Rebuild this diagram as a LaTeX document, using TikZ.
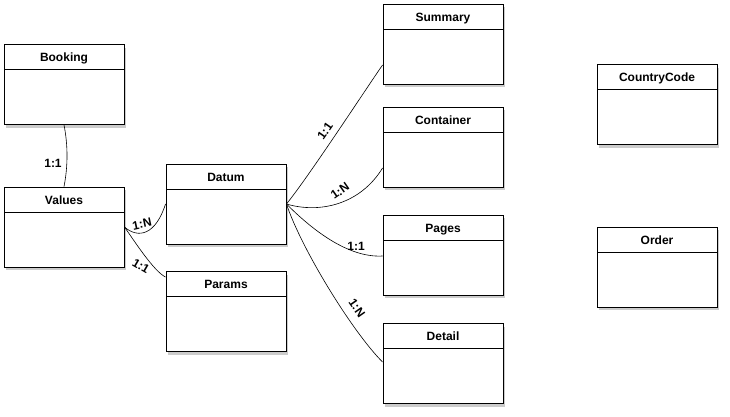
\documentclass[tikz,border=0pt]{standalone}
\usepackage{fontspec}
\setmainfont{Liberation Sans}
\usetikzlibrary{shadows}

\begin{document}
\begin{tikzpicture}[x=1pt,y=-1pt,
    entity/.style={draw,line width=0.9pt,fill=white,minimum width=120pt,minimum height=80pt,
        inner sep=0pt,
        drop shadow={shadow xshift=2pt,shadow yshift=-3pt,opacity=0.4,fill=gray},
        path picture={\draw[line width=0.9pt] ([yshift=-25pt]path picture bounding box.north west)
            -- ([yshift=-25pt]path picture bounding box.north east);}},
    title/.style={anchor=base,yshift=-17.8pt,font=\fontsize{12}{14}\selectfont\bfseries},
    rel/.style={font=\fontsize{12}{14}\selectfont\bfseries,inner sep=0pt},
    link/.style={line width=0.6pt}]
        \useasboundingbox (0,0) rectangle (730,416);

        \node[entity,label={[title]north:Booking}] (booking) at (64,84.5) {};
        \node[entity,label={[title]north:Values}] (values) at (64,227) {};
        \node[entity,label={[title]north:Datum}] (datum) at (226,204) {};
        \node[entity,label={[title]north:Params}] (params) at (226,311.5) {};
        \node[entity,label={[title]north:Summary}] (summary) at (443,44) {};
        \node[entity,label={[title]north:Container}] (container) at (443,147) {};
        \node[entity,label={[title]north:Pages}] (pages) at (443,255) {};
        \node[entity,label={[title]north:Detail}] (detail) at (443,363.5) {};
        \node[entity,label={[title]north:CountryCode}] (countrycode) at (657,104.5) {};
        \node[entity,label={[title]north:Order}] (order) at (657,267) {};

        \draw[link] (booking.south) .. controls +(4,20) and +(4,-20) .. (values.north);
        \draw[link] (values.east) .. controls +(14,12) and +(-10,31) .. (datum.west);
        \draw[link] (values.east) .. controls +(10,14) and +(-12,-6) .. ([yshift=-6pt]params.north west);
        \draw[link] (datum.east) .. controls +(22,-27) and +(-14,20) .. ([yshift=-21pt]summary.west);
        \draw[link] (datum.east) .. controls +(34,10) and +(-22,36) .. ([yshift=-21pt]container.west);
        \draw[link] (datum.east) .. controls +(25,25) and +(-35,2) .. ([yshift=-1pt]pages.west);
        \draw[link] (datum.east) .. controls +(15,45) and +(-30,-30) .. ([yshift=1.5pt]detail.west);

        \node[rel] (r1) at (53,163) {1:1};
        \node[rel,rotate=12] (r2) at (142,224) {1:N};
        \node[rel,rotate=-30] (r3) at (141,266) {1:1};
        \node[rel,rotate=55] (r4) at (325,131) {1:1};
        \node[rel,rotate=35] (r5) at (340,191) {1:N};
        \node[rel] (r6) at (356,246) {1:1};
        \node[rel,rotate=-55] (r7) at (357,308) {1:N};
    \end{tikzpicture}
\end{document}
